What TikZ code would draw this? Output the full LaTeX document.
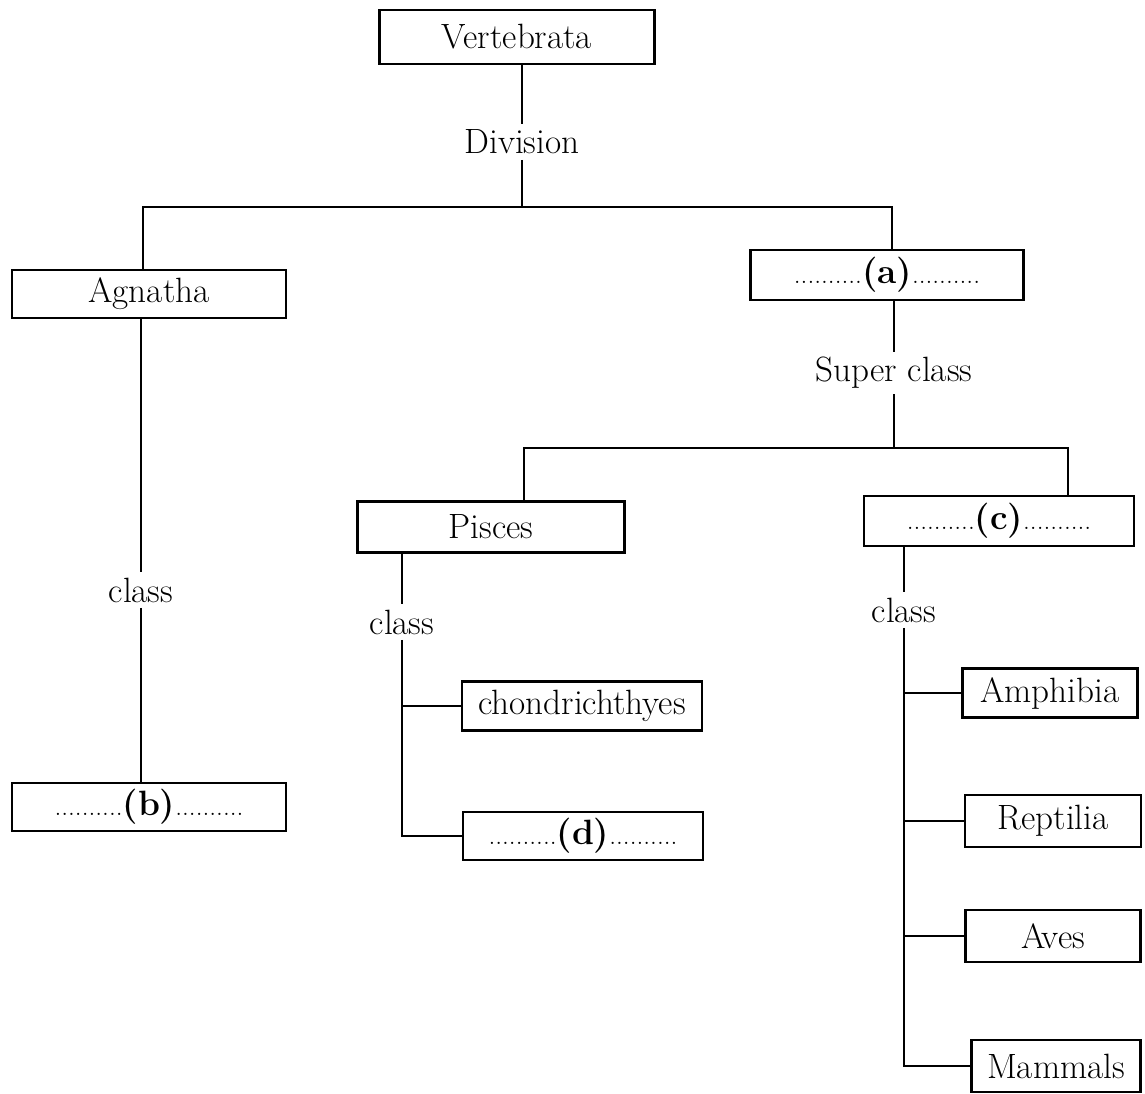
\documentclass[tikz,border=0pt]{standalone}
\usepackage{tikz}

\tikzset{
    taxon/.style={draw, rectangle, line width=1.6pt, inner sep=0pt, font=\fontsize{20}{24}\selectfont},
    rank/.style={inner sep=3pt, font=\fontsize{20}{24}\selectfont},
    branch/.style={line width=1.6pt}
}
\newcommand{\blankdots}{{\fontsize{15.5}{18}\selectfont ..........}}
\newcommand{\blankname}[1]{\blankdots\textbf{(#1)}\blankdots}

\begin{document}
\begin{tikzpicture}[x=0.02cm, y=-0.02cm]
    \useasboundingbox (0,0) rectangle (1145,1094);

    \node[taxon, minimum width=5.5cm, minimum height=1.08cm] (vertebrata) at (517,37) {Vertebrata};
    \node[taxon, minimum width=5.48cm, minimum height=0.96cm] (agnatha) at (149,294) {Agnatha};
    \node[taxon, minimum width=5.46cm, minimum height=1.0cm] (blanka) at (887,275) {\blankname{a}};
    \node[taxon, minimum width=5.34cm, minimum height=1.02cm] (pisces) at (491,527) {Pisces};
    \node[taxon, minimum width=5.4cm, minimum height=1.0cm] (blankc) at (999,521) {\blankname{c}};
    \node[taxon, minimum width=5.48cm, minimum height=0.96cm] (blankb) at (149,807) {\blankname{b}};
    \node[taxon, minimum width=4.8cm, minimum height=0.98cm] (chondrichthyes) at (582,706) {chondrichthyes};
    \node[taxon, minimum width=4.8cm, minimum height=0.96cm] (blankd) at (583,836) {\blankname{d}};
    \node[taxon, minimum width=3.5cm, minimum height=0.98cm] (amphibia) at (1050,693) {Amphibia};
    \node[taxon, minimum width=3.52cm, minimum height=1.04cm] (reptilia) at (1053,821) {Reptilia};
    \node[taxon, minimum width=3.5cm, minimum height=1.04cm] (aves) at (1053,936) {Aves};
    \node[taxon, minimum width=3.38cm, minimum height=1.04cm] (mammals) at (1056,1066) {Mammals};

    \node[rank] (division) at (522,142) {Division};
    \node[rank] (superclass) at (894,373) {Super class};
    \node[rank] (classagn) at (141,590) {class};
    \node[rank] (classpis) at (402,622) {class};
    \node[rank] (classc) at (904,610) {class};

    \coordinate (divjoin) at (522,207);
    \coordinate (agnjoin) at (143,207);
    \coordinate (ajoin) at (892,207);
    \coordinate (supjoin) at (894,448);
    \coordinate (pisjoin) at (524,448);
    \coordinate (cjoin) at (1068,448);

    \draw[branch] (division.north |- vertebrata.south) -- (division.north);
    \draw[branch] (division.south) -- (divjoin);
    \draw[branch] (agnjoin |- agnatha.north) -- (agnjoin) -- (ajoin) -- (ajoin |- blanka.north);
    \draw[branch] (superclass.north |- blanka.south) -- (superclass.north);
    \draw[branch] (superclass.south) -- (supjoin);
    \draw[branch] (pisjoin |- pisces.north) -- (pisjoin) -- (cjoin) -- (cjoin |- blankc.north);

    \draw[branch] (classagn.north |- agnatha.south) -- (classagn.north);
    \draw[branch] (classagn.south) -- (classagn.south |- blankb.north);

    \draw[branch] (classpis.north |- pisces.south) -- (classpis.north);
    \draw[branch] (classpis.south) -- (classpis.south |- blankd.west) -- (blankd.west);
    \draw[branch] (classpis.south |- chondrichthyes.west) -- (chondrichthyes.west);

    \draw[branch] (classc.north |- blankc.south) -- (classc.north);
    \draw[branch] (classc.south) -- (classc.south |- mammals.west) -- (mammals.west);
    \draw[branch] (classc.south |- amphibia.west) -- (amphibia.west);
    \draw[branch] (classc.south |- reptilia.west) -- (reptilia.west);
    \draw[branch] (classc.south |- aves.west) -- (aves.west);
\end{tikzpicture}
\end{document}
